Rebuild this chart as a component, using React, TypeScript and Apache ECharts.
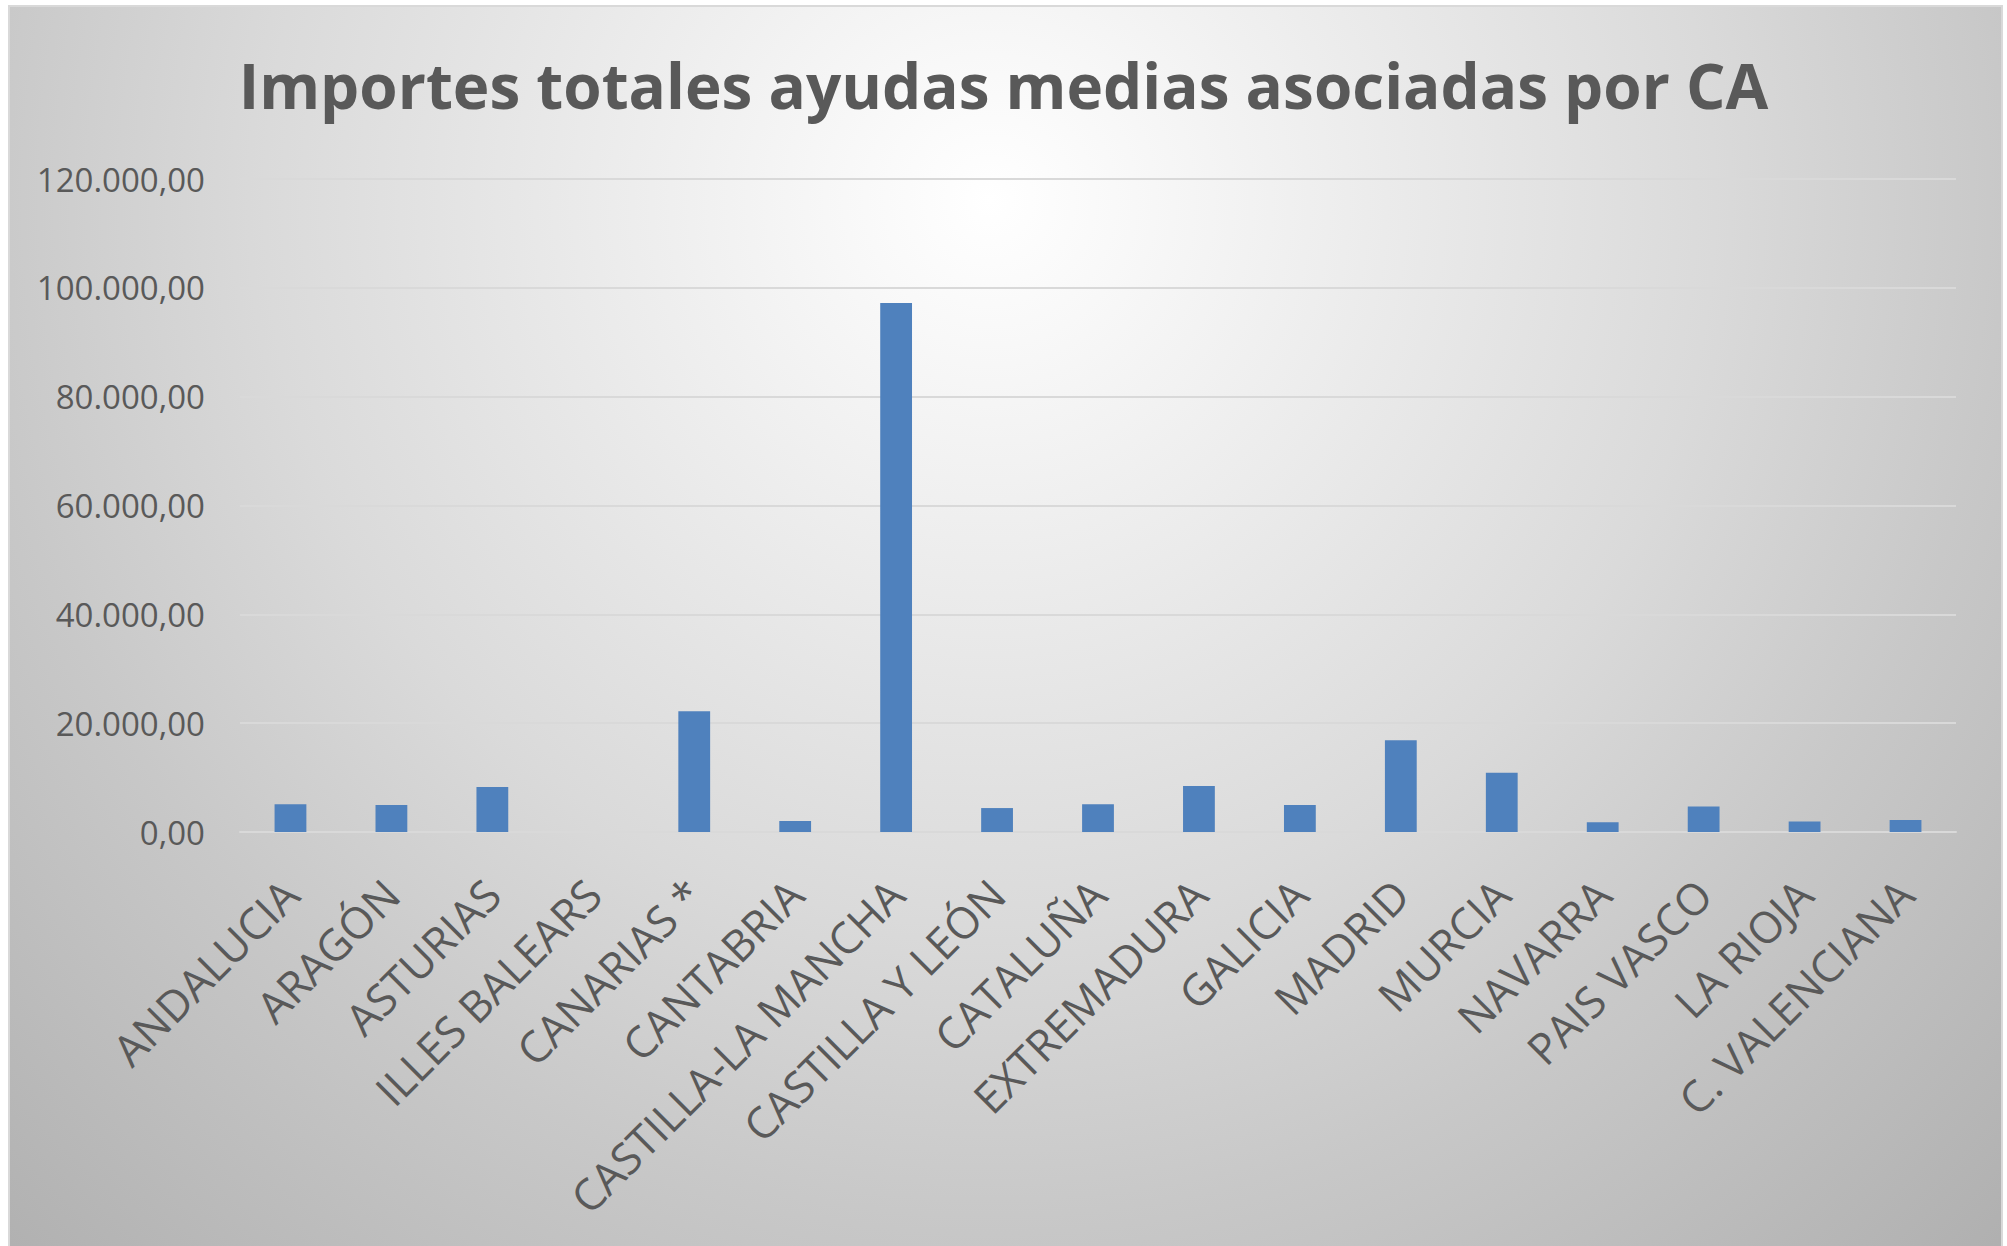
import React, { useEffect, useRef } from "react";
import * as echarts from "echarts";

const categories = [
  "ANDALUCIA",
  "ARAGÓN",
  "ASTURIAS",
  "ILLES BALEARS",
  "CANARIAS *",
  "CANTABRIA",
  "CASTILLA-LA MANCHA",
  "CASTILLA Y LEÓN",
  "CATALUÑA",
  "EXTREMADURA",
  "GALICIA",
  "MADRID",
  "MURCIA",
  "NAVARRA",
  "PAIS VASCO",
  "LA RIOJA",
  "C. VALENCIANA",
];

const values = [
  5100, 4950, 8250, 0, 22200, 2000, 97200, 4400, 5100, 8450, 4950, 16850,
  10900, 1800, 4700, 1950, 2200,
];

const yTickValues = [0, 20000, 40000, 60000, 80000, 100000, 120000];
const yTickLabels = [
  "0,00",
  "20.000,00",
  "40.000,00",
  "60.000,00",
  "80.000,00",
  "100.000,00",
  "120.000,00",
];

const titleText = "Importes totales ayudas medias asociadas por CA";

export default function App() {
  const ref = useRef<HTMLDivElement>(null);

  useEffect(() => {
    if (!ref.current) return;
    const chart = echarts.init(ref.current, undefined, { renderer: "svg" });
    const font = "'Open Sans', 'DejaVu Sans', sans-serif";
    const bg = new echarts.graphic.RadialGradient(
      990,
      200,
      1450,
      [
        { offset: 0, color: "#ffffff" },
        { offset: 0.1, color: "#f8f8f8" },
        { offset: 0.26, color: "#ececec" },
        { offset: 0.5, color: "#dadada" },
        { offset: 0.7, color: "#c8c8c8" },
        { offset: 1, color: "#b0b0b0" },
      ],
      true
    );
    chart.setOption({
      animation: false,
      backgroundColor: "#ffffff",
      textStyle: { fontFamily: font },
      graphic: [
        {
          type: "rect",
          z: -100,
          silent: true,
          shape: { x: 9, y: 6, width: 1993, height: 1270 },
          style: { fill: bg, stroke: "#d9d9d9", lineWidth: 2 },
        },
      ],
      title: {
        text: titleText,
        left: "center",
        top: 54,
        padding: 0,
        textStyle: {
          fontFamily: font,
          fontSize: 62,
          fontWeight: "bold",
          color: "#595959",
        },
      },
      grid: {
        left: 240,
        right: 51,
        top: 179,
        bottom: 414,
        containLabel: false,
      },
      xAxis: {
        type: "category",
        data: categories,
        axisLine: { show: true, lineStyle: { color: "#d9d9d9", width: 2 } },
        axisTick: { show: false },
        axisLabel: {
          rotate: 45,
          interval: 0,
          margin: 55,
          fontFamily: font,
          fontSize: 43.5,
          color: "#595959",
        },
      },
      yAxis: {
        type: "value",
        min: 0,
        max: 120000,
        interval: 20000,
        axisLine: { show: false },
        axisTick: { show: false },
        splitLine: { lineStyle: { color: "#d9d9d9", width: 2 } },
        axisLabel: {
          margin: 35,
          fontFamily: font,
          fontSize: 33,
          color: "#595959",
          formatter: (v: number) => {
            const i = yTickValues.indexOf(v);
            return i >= 0 ? yTickLabels[i] : "";
          },
        },
      },
      series: [
        {
          type: "bar",
          data: values,
          barWidth: "31.5%",
          itemStyle: { color: "#4F81BD" },
        },
      ],
    });
    return () => chart.dispose();
  }, []);

  return (
    <div
      ref={ref}
      style={{ position: "absolute", left: 0, top: 0, width: 2007, height: 1246 }}
    />
  );
}
